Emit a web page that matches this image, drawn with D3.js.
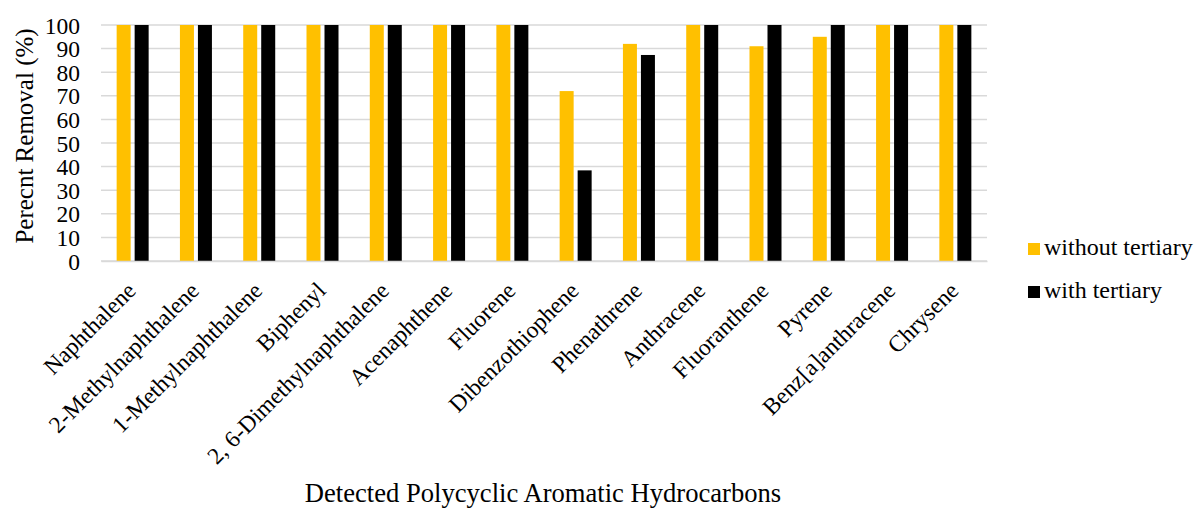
<!DOCTYPE html>
<html><head><meta charset="utf-8">
<script src="https://cdn.jsdelivr.net/npm/d3@7"></script>
<style>body{margin:0;background:#fff}svg{display:block}</style>
</head><body>
<svg id="c" width="1195" height="508"></svg>
<script>
const categories = ["Naphthalene","2-Methylnaphthalene","1-Methylnaphthalene","Biphenyl","2, 6-Dimethylnaphthalene","Acenaphthene","Fluorene","Dibenzothiophene","Phenathrene","Anthracene","Fluoranthene","Pyrene","Benz[a]anthracene","Chrysene"];
const withoutTertiary = [100,100,100,100,100,100,100,72,92,100,91,95,100,100];
const withTertiary = [100,100,100,100,100,100,100,38.4,87.3,100,100,100,100,100];
const seriesNames = ["without tertiary","with tertiary"];
const colors = ["#FFC000","#000000"];
const yTicks = [0,10,20,30,40,50,60,70,80,90,100];

const FONT = "'Liberation Serif','Times New Roman',Tinos,'DejaVu Serif',serif";
const svg = d3.select("#c").style("font-family",FONT);
const L=101,R=987,T=25,B=261;
const x = d3.scaleBand().domain(categories).range([L,R]).padding(0);
const y = d3.scaleLinear().domain([0,100]).range([B,T]);
const bw = 14, gap = 4;

svg.append("g").selectAll("line").data(yTicks).join("line")
  .attr("x1",L).attr("x2",R).attr("y1",d=>y(d)).attr("y2",d=>y(d))
  .attr("stroke","#d9d9d9").attr("stroke-width",1.5);

const ya = svg.append("g").attr("transform",`translate(${L-21},0)`)
  .call(d3.axisLeft(y).tickValues(yTicks).tickSize(0).tickPadding(0));
ya.attr("font-family",null);
ya.select(".domain").remove();
ya.selectAll("text").style("font-family",FONT).attr("font-size",23.5).attr("fill","#000").attr("dy","0.34em");

const series = [withoutTertiary, withTertiary];
series.forEach((vals,si)=>{
  svg.append("g").selectAll("rect").data(categories).join("rect")
    .attr("x",d=>x(d)+x.bandwidth()/2 + (si===0 ? -gap/2-bw : gap/2))
    .attr("width",bw)
    .attr("y",(d,i)=>y(vals[i]))
    .attr("height",(d,i)=>B-y(vals[i]))
    .attr("fill",colors[si]);
});

const xa = svg.append("g").attr("transform",`translate(0,${B})`)
  .call(d3.axisBottom(x).tickSize(0).tickPadding(0));
xa.attr("font-family",null);
xa.select(".domain").attr("stroke","#d9d9d9").attr("stroke-width",1.5);
xa.selectAll("text").style("font-family",FONT).attr("font-size",23.5).attr("fill","#000")
  .attr("text-anchor","end").attr("dy",0).attr("y",0)
  .attr("transform","translate(4.5,31) rotate(-45)");

svg.append("text").style("font-family",FONT).attr("transform",`translate(33,136) rotate(-90)`)
  .attr("text-anchor","middle").attr("font-size",25).text("Perecnt Removal (%)");
svg.append("text").style("font-family",FONT).attr("x",543).attr("y",502).attr("text-anchor","middle")
  .attr("font-size",26.6).text("Detected Polycyclic Aromatic Hydrocarbons");

const lg = svg.append("g");
seriesNames.forEach((n,i)=>{
  lg.append("rect").attr("x",1028).attr("y",243+i*43).attr("width",12).attr("height",12).attr("fill",colors[i]);
  lg.append("text").style("font-family",FONT).attr("x",1044).attr("y",255+i*43).attr("font-size",24).text(n);
});
</script>
</body></html>
